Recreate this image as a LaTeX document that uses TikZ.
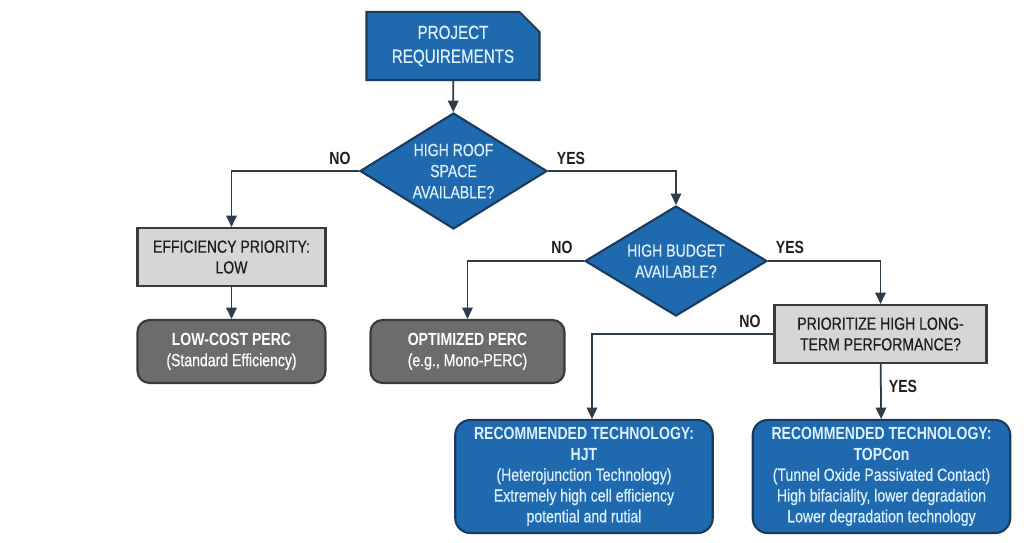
\documentclass[tikz,border=0pt]{standalone}
\usepackage{fontspec}
\setmainfont{Liberation Sans}[FakeStretch=0.8, UprightFeatures={FakeBold=0.6}]
\usetikzlibrary{arrows.meta,shapes.geometric,shapes.misc}
\definecolor{boxblue}{HTML}{1F6AAF}
\definecolor{navyline}{HTML}{1B3A5C}
\definecolor{boxtext}{HTML}{DCEFFA}
\definecolor{lightgray}{HTML}{D6D6D6}
\definecolor{darkgray}{HTML}{6C6C6C}
\definecolor{grayline}{HTML}{3A3A3A}
\definecolor{arrowline}{HTML}{2E3B48}
\definecolor{textdark}{HTML}{1E1E1E}

\begin{document}
\begin{tikzpicture}[
  every node/.style={align=center, font=\fontsize{10}{11.8}\selectfont, inner sep=0pt, text=textdark},
  startbox/.style={chamfered rectangle, chamfered rectangle corners=north east, chamfered rectangle xsep=0.2cm, chamfered rectangle ysep=0.2cm, draw=navyline, line width=1.2pt, fill=boxblue, text=boxtext, font=\fontsize{10.8}{13.6}\selectfont, minimum width=3.46cm, minimum height=1.36cm},
  decision/.style={diamond, aspect=1.6, draw=navyline, line width=1.2pt, fill=boxblue, text=boxtext, font=\fontsize{10}{12}\selectfont},
  querybox/.style={draw=grayline, line width=1.2pt, fill=lightgray, minimum height=1.16cm},
  resultbox/.style={draw=grayline, line width=1.2pt, fill=darkgray, text=white, rounded corners=0.24cm, minimum height=1.26cm},
  techbox/.style={draw=navyline, line width=1.2pt, fill=boxblue, text=boxtext, rounded corners=0.3cm, minimum width=5.15cm, minimum height=2.26cm},
  answer/.style={font=\fontsize{10}{11.8}\selectfont\bfseries},
  flow/.style={->, draw=arrowline, line width=1pt},
  >={Triangle[width=6pt,length=6.5pt]}
]
\useasboundingbox (0,0) rectangle (20.48,-10.84);

\node[startbox] (req) at (9.06,-0.92) {PROJECT\\REQUIREMENTS};
\node[decision, minimum width=3.74cm, minimum height=2.32cm] (roof) at (9.07,-3.42) {HIGH ROOF\\SPACE\\AVAILABLE?};
\node[querybox, minimum width=3.76cm] (eff) at (4.63,-5.14) {EFFICIENCY PRIORITY:\\LOW};
\node[resultbox, minimum width=3.76cm] (lowcost) at (4.63,-7.03) {\textbf{LOW-COST PERC}\\(Standard Efficiency)};
\node[decision, minimum width=3.64cm, minimum height=2.2cm] (budget) at (13.52,-5.22) {HIGH BUDGET\\AVAILABLE?};
\node[resultbox, minimum width=3.88cm] (optperc) at (9.35,-7.03) {\textbf{OPTIMIZED PERC}\\(e.g., Mono-PERC)};
\node[querybox, minimum width=4.24cm] (longterm) at (17.61,-6.68) {PRIORITIZE HIGH LONG-\\TERM PERFORMANCE?};
\node[techbox] (hjt) at (11.68,-9.53) {\textbf{RECOMMENDED TECHNOLOGY:}\\\textbf{HJT}\\(Heterojunction Technology)\\Extremely high cell efficiency\\potential and rutial};
\node[techbox] (topcon) at (17.63,-9.53) {\textbf{RECOMMENDED TECHNOLOGY:}\\\textbf{TOPCon}\\(Tunnel Oxide Passivated Contact)\\High bifaciality, lower degradation\\Lower degradation technology};

% branch labels
\node[answer] (roofno) at (6.8,-3.16) {NO};
\node[answer] (roofyes) at (11.42,-3.16) {YES};
\node[answer] (budgetno) at (11.24,-4.94) {NO};
\node[answer] (budgetyes) at (15.8,-4.94) {YES};
\node[answer] (longno) at (15.0,-6.42) {NO};
\node[answer] (longyes) at (18.06,-7.72) {YES};

\draw[flow] (req) -- (roof);
\draw[flow] (roof.west) -| (eff.north);
\draw[flow] (roof.east) -| (budget.north);
\draw[flow] (eff) -- (lowcost);
\draw[flow] (budget.west) -| (optperc.north);
\draw[flow] (budget.east) -| (longterm.north);
\draw[flow] (longterm.west) -| ([xshift=0.16cm]hjt.north);
\draw[flow] (longterm) -- (topcon);
\end{tikzpicture}
\end{document}
